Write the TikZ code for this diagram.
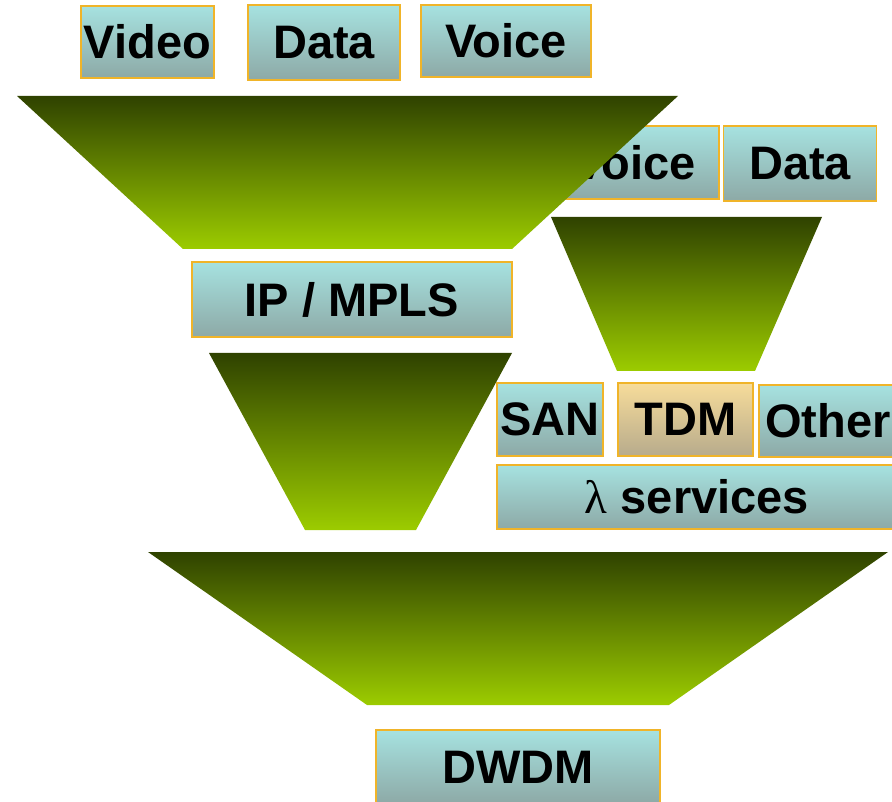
\documentclass[tikz,border=0pt]{standalone}
\usepackage{fontspec}
\setmainfont{Liberation Sans}
\newfontfamily\lamfont{Liberation Serif}
\definecolor{boxorange}{HTML}{F0B429}
\definecolor{boxtop}{HTML}{A6E2E0}
\definecolor{boxbot}{HTML}{8DA9A6}
\definecolor{tdmtop}{HTML}{F7DC9A}
\definecolor{tdmbot}{HTML}{B7AB8C}
\definecolor{funtop}{HTML}{2F4200}
\definecolor{funmid}{HTML}{628E00}
\definecolor{funbot}{HTML}{9CCC00}
\newcommand{\lblfont}{\fontsize{47}{50}\selectfont\bfseries}
\tikzset{
  lbl/.style={draw=boxorange, line width=1.6pt, top color=boxtop, bottom color=boxbot,
    inner sep=0pt, font=\lblfont, text=black},
  tdmbox/.style={lbl, top color=tdmtop, bottom color=tdmbot},
  funnel/.style={top color=funtop, middle color=funmid, bottom color=funbot}
}
\begin{document}
\begin{tikzpicture}[x=1pt,y=-1pt]
\useasboundingbox (0,0) rectangle (892,802);
\clip (0,0) rectangle (892,802);
% top inputs
\node[lbl, minimum width=133pt, minimum height=72pt] (video) at (147.5,42) {Video};
\node[lbl, minimum width=152pt, minimum height=75pt] (data1) at (324,42.5) {Data};
\node[lbl, minimum width=170pt, minimum height=72pt] (voice1) at (506,41) {Voice};
% right inputs
\node[lbl, minimum width=169pt, minimum height=73pt] (voice2) at (634.5,162.5) {Voice};
\node[lbl, minimum width=153pt, minimum height=75pt] (data2) at (800,163.5) {Data};
% funnel 1
\shade[funnel] (17,96) -- (678,96) -- (512,249) -- (183,249) -- cycle;
% funnel 2
\shade[funnel] (551,217) -- (822,217) -- (755,371) -- (617,371) -- cycle;
% IP/MPLS
\node[lbl, minimum width=320pt, minimum height=75pt] (ipmpls) at (352,299.5) {IP / MPLS};
% funnel 3
\shade[funnel] (209,353) -- (512,353) -- (416,530) -- (305,530) -- cycle;
% SAN TDM Other
\node[lbl, minimum width=106pt, minimum height=73pt] (san) at (550,419.5) {SAN};
\node[tdmbox, minimum width=135pt, minimum height=73pt] (tdm) at (685.5,419.5) {TDM};
\node[lbl, minimum width=138pt, minimum height=72pt] (other) at (828,421) {Other};
\node[lbl, minimum width=400pt, minimum height=64pt] (lambda) at (697,497) {{\lamfont\mdseries\fontsize{47}{50}\selectfont λ} services};
% funnel 4
\shade[funnel] (148,552) -- (888,552) -- (669,705) -- (367,705) -- cycle;
% DWDM
\node[lbl, minimum width=284pt, minimum height=74pt] (dwdm) at (518,767) {DWDM};
\end{tikzpicture}
\end{document}
